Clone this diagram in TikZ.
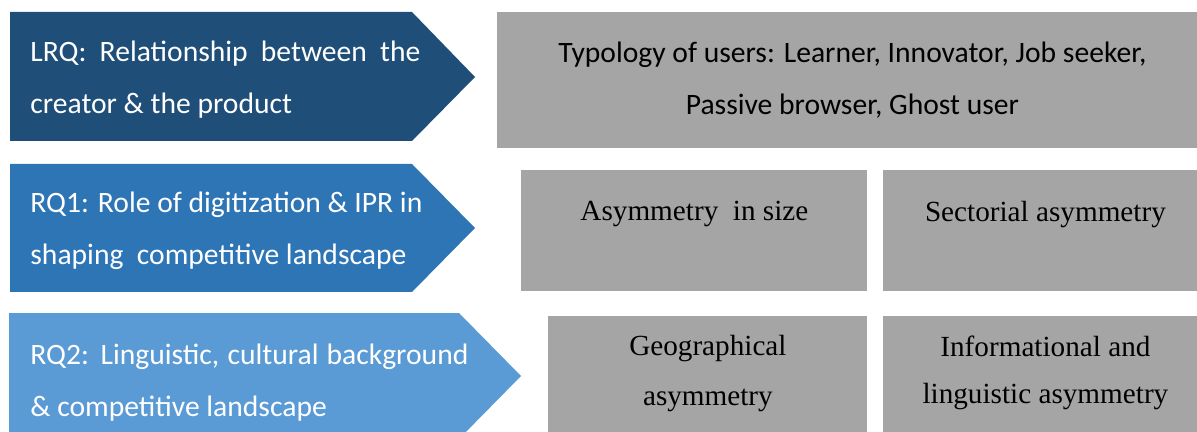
\documentclass[tikz,border=0pt]{standalone}
\usepackage{fontspec}
\setmainfont{Liberation Serif}
\newfontfamily\calibri{Carlito}
\usepackage{xcolor}
\usepackage{tikz}
\definecolor{lrqblue}{HTML}{1F4E79}
\definecolor{rqoneblue}{HTML}{2E75B6}
\definecolor{rqtwoblue}{HTML}{5B9BD5}
\definecolor{boxgray}{HTML}{A5A5A5}

\begin{document}
\begin{tikzpicture}[x=0.5pt,y=-0.5pt,
% common options for the question texts:
question/.style = {text=white, align=left, anchor=west, inner sep=0,
            font=\calibri\fontsize{14.8}{26}\selectfont},
% common options for the grey blocks:
block/.style = {fill=boxgray, anchor=north west, align=center, inner sep=0,
            minimum height=60.5pt},
answer/.style = {block, font=\fontsize{14.6}{25}\selectfont}]
\useasboundingbox (0,0) rectangle (1197,432);
\clip (0,0) rectangle (1197,432);
% arrows with the research questions
\fill[lrqblue] (10,12) -- (412,12) -- (475,77) -- (412,141) -- (10,141) -- cycle;
\fill[rqoneblue] (10,164) -- (412,164) -- (475,228) -- (412,292) -- (10,292) -- cycle;
\fill[rqtwoblue] (9,313) -- (459,313) -- (521,376) -- (459,439) -- (9,439) -- cycle;
\node[question] (Q0) at (30,80) {\makebox[195pt][s]{LRQ: Relationship between the}\\creator \& the product};
\node[question] (Q1) at (30,231) {\makebox[196pt][s]{RQ1: Role of digitization \& IPR in}\\shaping\ \ competitive landscape};
\node[question] (Q2) at (30,383) {\makebox[219pt][s]{RQ2: Linguistic, cultural background}\\\& competitive landscape};
% grey blocks with the findings
\node[block, minimum width=355pt, minimum height=68pt, font=\calibri\fontsize{14.8}{26}\selectfont] (B0) at (497,12)
  {Typology of users: Learner, Innovator, Job seeker,\\Passive browser, Ghost user};
\node[answer, minimum width=173pt] (B1) at (521,170) {Asymmetry\ \ in size\\[-5pt]~};
\node[answer, minimum width=162pt] (B2) at (883,170) {Sectorial asymmetry\\[-5pt]~};
\node[answer, minimum width=159.5pt] (B3) at (548,316) {Geographical\\asymmetry\\[-18pt]~};
\node[answer, minimum width=162pt] (B4) at (883,316) {Informational and\\[-1.5pt]linguistic asymmetry\\[-18pt]~};
\end{tikzpicture}
\end{document}
